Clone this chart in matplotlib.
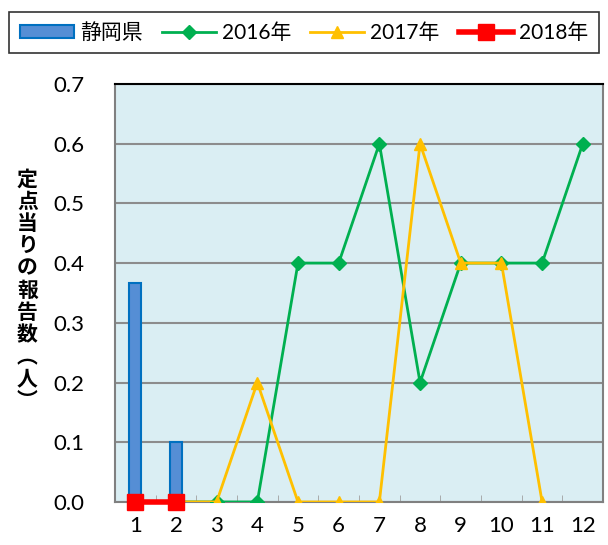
import matplotlib
matplotlib.use("Agg")
import matplotlib.pyplot as plt
import numpy as np

plt.rcParams['font.family'] = ['Lato', 'Noto Sans CJK JP', 'DejaVu Sans']

months = [1, 2, 3, 4, 5, 6, 7, 8, 9, 10, 11, 12]
bar_months = [1, 2]
bar_values = [0.367, 0.1]
y2016_months = [1, 2, 3, 4, 5, 6, 7, 8, 9, 10, 11, 12]
y2016 = [0, 0, 0, 0, 0.4, 0.4, 0.6, 0.2, 0.4, 0.4, 0.4, 0.6]
y2017_months = [1, 2, 3, 4, 5, 6, 7, 8, 9, 10, 11]
y2017 = [0, 0, 0, 0.2, 0, 0, 0, 0.6, 0.4, 0.4, 0]
y2018_months = [1, 2]
y2018 = [0, 0]
yticks = [0.0, 0.1, 0.2, 0.3, 0.4, 0.5, 0.6, 0.7]
ylabel = "定点当りの報告数︵人︶"

fig = plt.figure(figsize=(6.08, 5.45), dpi=100)
ax = fig.add_axes([0.189, 0.079, 0.803, 0.767])
ax.set_facecolor('#DAEEF3')

hb = ax.bar(bar_months, bar_values, width=0.3, color='#558ED5', edgecolor='#0070C0',
            linewidth=1.5, label='静岡県', zorder=3)
h16, = ax.plot(y2016_months, y2016, color='#00B050', lw=2, marker='D', ms=7,
               label='2016年', zorder=4)
h17, = ax.plot(y2017_months, y2017, color='#FFC000', lw=2, marker='^', ms=9,
               label='2017年', zorder=5)
h18, = ax.plot(y2018_months, y2018, color='#FF0000', lw=4, marker='s', ms=12,
               label='2018年', zorder=6, clip_on=False)

ax.set_xlim(0.5, 12.5)
ax.set_ylim(0, 0.7)
ax.set_yticks(yticks)
ax.set_yticklabels([f"{v:.1f}" for v in yticks], fontsize=16)
ax.set_xticks(months)
ax.set_xticklabels([str(m) for m in months], fontsize=16)
ax.tick_params(axis='x', length=0, pad=10)
ax.tick_params(axis='y', length=0, pad=22)
ax.set_xticks(np.arange(1.5, 12.5, 1), minor=True)
ax.tick_params(axis='x', which='minor', length=5, direction='in', color='#A0A0A0')
ax.yaxis.grid(True, color='#8C8C8C', lw=1.5, zorder=1)
ax.set_axisbelow(True)
for s in ['left', 'bottom', 'right']:
    ax.spines[s].set_color('#808080')
    ax.spines[s].set_linewidth(1.5)
ax.spines['top'].set_color('#000000')
ax.spines['top'].set_linewidth(1.5)

fig.text(0.045, 0.468, "\n".join(ylabel), fontsize=15, fontweight='bold',
         ha='center', va='center', linespacing=1.07,
         family=['Noto Sans CJK JP', 'DejaVu Sans'])

leg = fig.legend([hb, h16, h17, h18], ['静岡県', '2016年', '2017年', '2018年'],
                 loc='upper center', bbox_to_anchor=(0.5, 0.985), ncol=4,
                 fontsize=15, frameon=True, fancybox=False, edgecolor='black',
                 handlelength=2.6, handleheight=0.6, columnspacing=0.9,
                 handletextpad=0.3, borderpad=0.5, borderaxespad=0.2)
leg.get_frame().set_linewidth(1.2)

fig.savefig("out.png", dpi=100)
